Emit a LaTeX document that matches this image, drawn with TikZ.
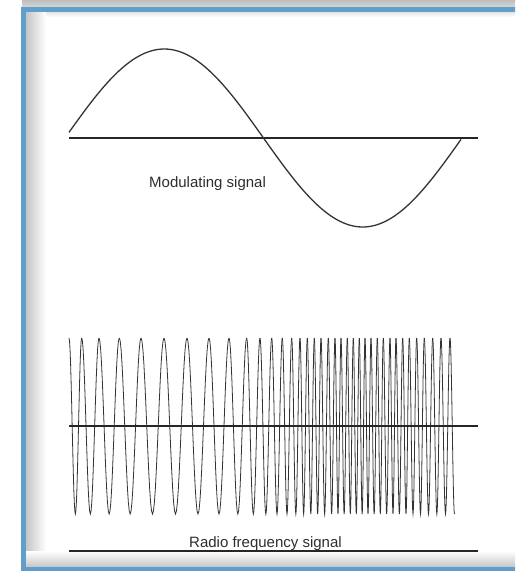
\documentclass[tikz,border=0pt]{standalone}
\usepackage{fontspec}
\setmainfont{Liberation Sans}
\definecolor{framblue}{RGB}{98,158,204}
\definecolor{inktext}{RGB}{45,45,45}
\begin{document}
\begin{tikzpicture}[x=1pt,y=-1pt,
  axisline/.style={line width=1.6pt, draw=black!85},
  modsig/.style={line width=1.3pt, draw=black!80},
  rfsig/.style={line width=0.8pt, draw=black!80},
  lbl/.style={inner sep=0pt, text=inktext, font=\fontsize{15}{18}\selectfont}]
\useasboundingbox (0,0) rectangle (515,571);
\clip (0,0) rectangle (515,571);
% frame and shadows
\shade[top color=gray!50, bottom color=gray!30] (22,0) rectangle (515,8);
\shade[top color=gray!20, bottom color=white] (26,12) rectangle (515,17);
\shade[left color=gray!45, right color=white] (26,12) rectangle (46,567);
\shade[top color=white, bottom color=gray!45] (26,551) rectangle (515,567);
\draw[line width=5pt, draw=framblue] (23.5,9.8) rectangle (530,569.5);
% modulating signal
\coordinate (m1) at (69,138);
\coordinate (m2) at (478,138);
\draw[axisline] (m1) -- (m2);
\draw[modsig] plot[domain=69:461, samples=160, smooth] (\x,{138-89*sin(0.906801*(\x-65))});
\node[lbl, anchor=base west] (modlabel) at (149,187) {Modulating signal};
% radio frequency signal
\foreach \b [remember=\b as \a (initially 69)] in {81.7,99,119.3,141,164,187,209,229,246.7,260,271.7,282.3,291.7,300,307.3,314.3,321,328.3,335,341,347.3,353.3,359.3,365,371,377.3,383.3,390,396,402.7,409.3,416.7,424.3,432.7,441,450}
  \draw[rfsig] plot[domain=\a:\b, samples=25] (\x,{426-88*cos(360/(\b-\a)*(\x-\a))});
\draw[rfsig] plot[domain=450:454.5, samples=13] (\x,{426-88*cos(40*(\x-450))});
\coordinate (r1) at (69,426);
\coordinate (r2) at (478,426);
\draw[axisline] (r1) -- (r2);
\coordinate (b1) at (69,551);
\coordinate (b2) at (478,551);
\draw[axisline, line width=1.3pt] (b1) -- (b2);
\node[lbl, anchor=base west] (rflabel) at (189,547) {Radio frequency signal};
\end{tikzpicture}
\end{document}
